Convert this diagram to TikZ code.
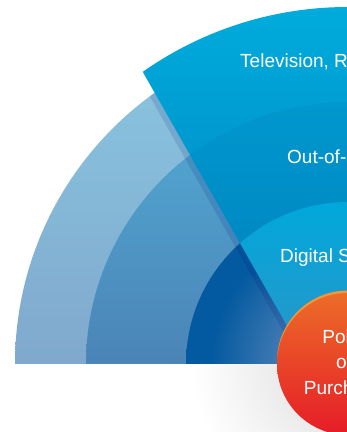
\documentclass[tikz,border=0pt]{standalone}
\usepackage{fontspec}
\setmainfont{Liberation Sans}
\usetikzlibrary{positioning}

\definecolor{outerL}{RGB}{138,200,225}
\definecolor{outerLb}{RGB}{128,168,205}
\definecolor{midL}{RGB}{82,170,212}
\definecolor{midLb}{RGB}{75,132,183}
\definecolor{innerDark}{RGB}{4,90,160}
\definecolor{innerGlow}{RGB}{62,120,178}
\definecolor{tvTop}{RGB}{0,172,220}
\definecolor{tvBot}{RGB}{0,124,188}
\definecolor{oohTop}{RGB}{0,152,206}
\definecolor{oohBot}{RGB}{0,124,186}
\definecolor{digTop}{RGB}{0,168,218}
\definecolor{digBot}{RGB}{45,148,200}
\definecolor{popTop}{RGB}{236,108,40}
\definecolor{popMid}{RGB}{196,38,46}
\definecolor{popBot}{RGB}{230,28,40}
\definecolor{popRim}{RGB}{247,150,50}
\definecolor{floorGray}{RGB}{236,236,236}

\pgfdeclareradialshading{bandglow}{\pgfpoint{0bp}{0bp}}{color(0bp)=(innerGlow); color(11bp)=(innerGlow); color(21bp)=(innerDark); color(50bp)=(innerDark)}
\pgfdeclareradialshading{floorshade}{\pgfpoint{0bp}{0bp}}{color(0bp)=(floorGray); color(11bp)=(floorGray); color(23bp)=(white); color(50bp)=(white)}

\begin{document}
\begin{tikzpicture}[x=1pt,y=1pt]
  \tikzstyle{band text}=[anchor=base west,inner sep=0pt,text=white,font=\fontsize{19}{23}\selectfont]
  \useasboundingbox (0,0) rectangle (347,432);

  \coordinate (C) at (348,68);
  \coordinate (cutBot) at (308.8,68);
  \coordinate (cutFar) at (63.3,500);

  % shadow on the floor
  \begin{scope}
    \clip (0,0) rectangle (347,68);
    \shade[shading=floorshade] (C) circle (170);
  \end{scope}

  % left fan
  \shade[top color=outerL,bottom color=outerLb] (C) ++(-333,0) arc (180:0:333) -- cycle;
  \shade[top color=midL,bottom color=midLb] (C) ++(-262,0) arc (180:0:262) -- cycle;
  \begin{scope}
    \clip (0,68) rectangle (400,500);
    \shade[shading=bandglow] (C) circle (162);
  \end{scope}
  \begin{scope}
    \clip (C) ++(-333,0) arc (180:0:333) -- cycle;
    \fill[black!60!blue,opacity=.12] (cutFar) -- (cutBot) -- ([xshift=-7pt]cutBot) -- ([xshift=-7pt]cutFar) -- cycle;
  \end{scope}

  % right wedge
  \begin{scope}
    \clip (cutFar) -- (cutBot) -- (400,68) -- (400,500) -- cycle;
    \shade[top color=tvTop,bottom color=tvBot] (C) ++(-357,0) arc (180:0:357) -- cycle;
    \shade[top color=oohTop,bottom color=oohBot] (C) ++(-262,0) arc (180:0:262) -- cycle;
    \shade[top color=digTop,bottom color=digBot] (C) ++(-162,0) arc (180:0:162) -- cycle;
  \end{scope}

  % point of purchase
  \fill[popRim] ([yshift=2.5pt]C) circle (71);
  \shade[top color=popTop,middle color=popMid,bottom color=popBot] (C) circle (71);

  \node[band text] (tv)  at (240,364) {Television, Radio};
  \node[band text] (ooh) at (287,268) {Out-of-Home};
  \node[band text] (dig) at (280,169) {Digital Signage};
  \node[align=center,text=white,font=\fontsize{19}{25.5}\selectfont] (pop) at (344,70) {Point\\of\\Purchase};
\end{tikzpicture}
\end{document}
